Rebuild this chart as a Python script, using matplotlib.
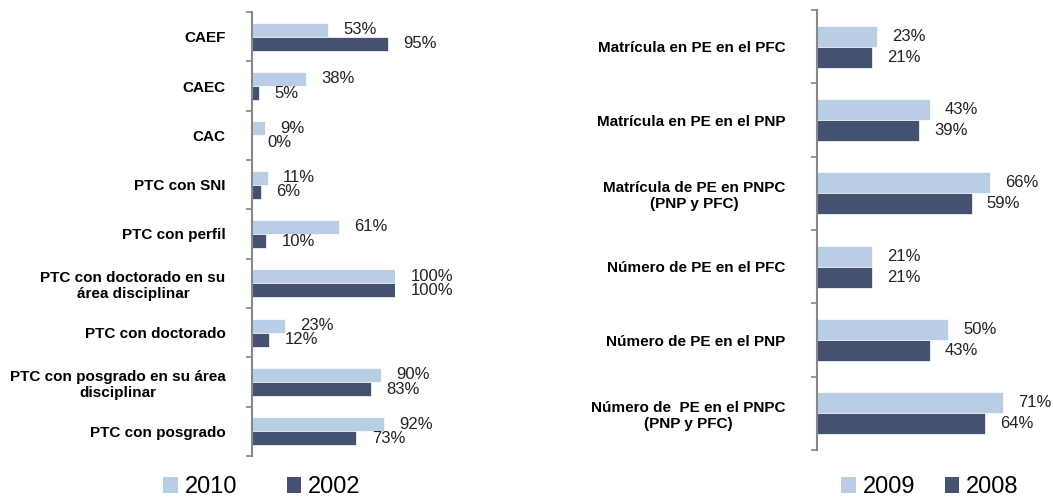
import matplotlib
matplotlib.use("Agg")
import matplotlib.pyplot as plt
from matplotlib.patches import Patch
from matplotlib import font_manager
import numpy as np

available = {f.name for f in font_manager.fontManager.ttflist}
primary = next((f for f in ["Liberation Sans Narrow", "Arial Narrow", "Liberation Sans"] if f in available),
               "DejaVu Sans")
plt.rcParams['font.family'] = [primary, 'DejaVu Sans']

left_categories = ["CAEF", "CAEC", "CAC", "PTC con SNI", "PTC con perfil",
                   "PTC con doctorado en su\nárea disciplinar", "PTC con doctorado",
                   "PTC con posgrado en su área\ndisciplinar", "PTC con posgrado"]
left_2010 = [53, 38, 9, 11, 61, 100, 23, 90, 92]
left_2002 = [95, 5, 0, 6, 10, 100, 12, 83, 73]
left_series = ["2010", "2002"]

right_categories = ["Matrícula en PE en el PFC", "Matrícula en PE en el PNP",
                    "Matrícula de PE en PNPC\n(PNP y PFC)", "Número de PE en el PFC",
                    "Número de PE en el PNP", "Número de  PE en el PNPC\n(PNP y PFC)"]
right_2009 = [23, 43, 66, 21, 50, 71]
right_2008 = [21, 39, 59, 21, 43, 64]
right_series = ["2009", "2008"]

LIGHT = "#B9CDE5"
DARK = "#455171"
SPINE = "#888888"

fig = plt.figure(figsize=(10.53, 5.0), dpi=100)

def draw(ax, cats, s1, s2, names, hfrac, legend_anchor, colspace, pad):
    n = len(cats)
    y = np.arange(n)
    ax.barh(y - hfrac / 2, s1, height=hfrac, color=LIGHT, edgecolor="white", linewidth=0.5)
    ax.barh(y + hfrac / 2, s2, height=hfrac, color=DARK, edgecolor="white", linewidth=0.5)
    for yi, v in zip(y, s1):
        ax.annotate(f"{v}%", (v, yi - hfrac / 2), xytext=(11, 0), textcoords="offset points",
                    ha="left", va="center", fontsize=12, color="#222222", annotation_clip=False)
    for yi, v in zip(y, s2):
        ax.annotate(f"{v}%", (v, yi + hfrac / 2), xytext=(11, 0), textcoords="offset points",
                    ha="left", va="center", fontsize=12, color="#222222", annotation_clip=False)
    ax.set_ylim(n - 0.5, -0.5)
    ax.set_xlim(0, 100)
    for s in ["top", "right", "bottom"]:
        ax.spines[s].set_visible(False)
    ax.spines["left"].set_color(SPINE)
    ax.spines["left"].set_linewidth(1.5)
    ax.set_xticks([])
    ax.set_yticks(y)
    ax.set_yticklabels(cats, fontsize=11, fontweight="bold", multialignment="center")
    ax.tick_params(axis="y", which="major", length=0, pad=pad)
    ax.set_yticks(np.arange(n + 1) - 0.5, minor=True)
    ax.tick_params(axis="y", which="minor", length=4, width=1.2, color=SPINE, direction="out")
    handles = [Patch(facecolor=LIGHT, edgecolor="none"), Patch(facecolor=DARK, edgecolor="none")]
    fig.legend(handles, names, loc="center", bbox_to_anchor=legend_anchor, ncol=2, frameon=False,
               fontsize=17, handlelength=0.6, handleheight=0.65, handletextpad=0.3,
               columnspacing=colspace)

ax1 = fig.add_axes([252 / 1053, 1 - 456 / 500, 143 / 1053, 444 / 500])
draw(ax1, left_categories, left_2010, left_2002, left_series, 0.285, (262 / 1053, 1 - 487 / 500), 2.1, 19)

ax2 = fig.add_axes([817 / 1053, 1 - 450 / 500, 262 / 1053, 440 / 500])
draw(ax2, right_categories, right_2009, right_2008, right_series, 0.287, (930 / 1053, 1 - 487 / 500), 1.25, 22.5)

fig.savefig("out.png", dpi=100)
